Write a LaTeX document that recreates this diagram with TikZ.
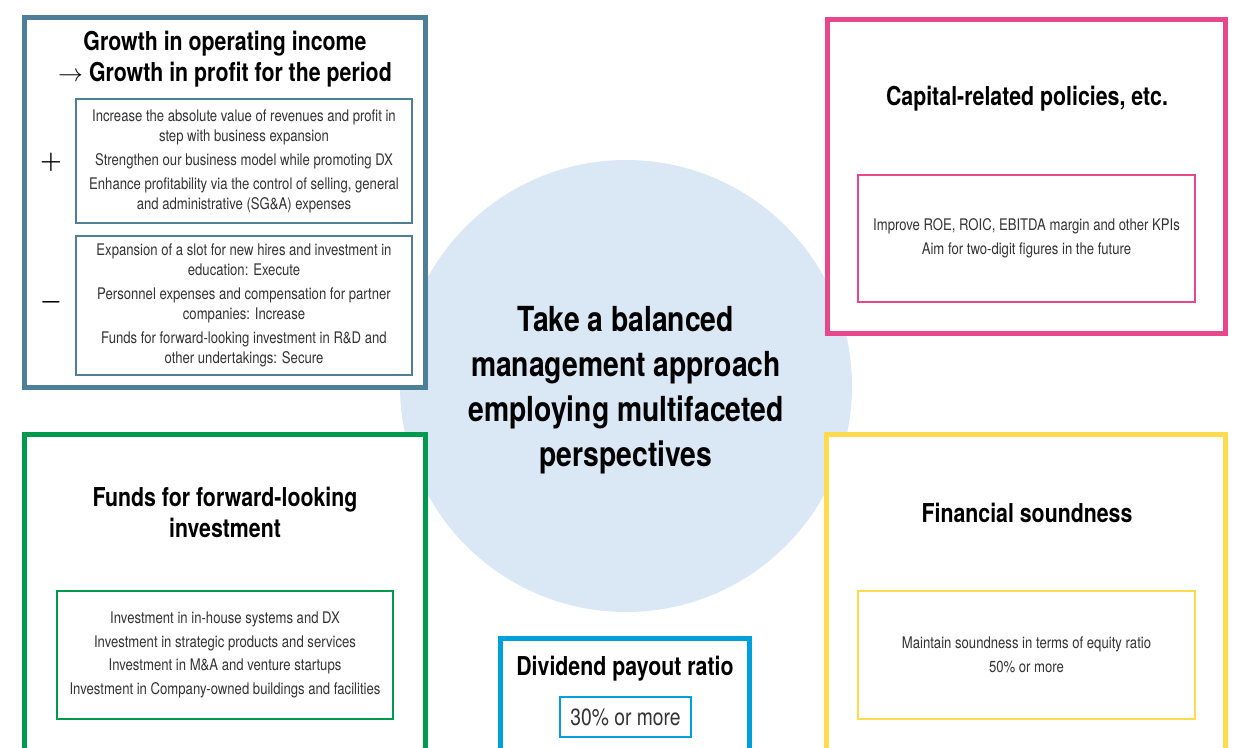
\documentclass[tikz,border=0pt]{standalone}
\usepackage{fontspec}
\setmainfont{TeX Gyre Heros}[FakeStretch=0.82]
\usepackage{tikz}
\usetikzlibrary{positioning}

\definecolor{slateline}{RGB}{77,127,153}
\definecolor{pinkline}{RGB}{232,71,139}
\definecolor{greenline}{RGB}{0,154,78}
\definecolor{yellowline}{RGB}{255,219,77}
\definecolor{blueline}{RGB}{0,160,221}
\definecolor{hubfill}{RGB}{218,232,246}
\definecolor{bodygrey}{RGB}{51,51,51}

\tikzset{
  outerbox/.style={draw=#1, line width=5pt, fill=white, inner sep=0pt},
  innerbox/.style={draw=#1, line width=2pt, fill=white, inner sep=0pt,
    align=center, text=bodygrey, font=\fontsize{16}{20}\selectfont},
  headtext/.style={align=center, font=\bfseries\fontsize{26}{31}\selectfont},
  signtext/.style={font=\boldmath\fontsize{38}{38}\selectfont}
}

\begin{document}
\begin{tikzpicture}[x=1pt, y=-1pt]
    \useasboundingbox (0,0) rectangle (1239,747);
    \clip (0,0) rectangle (1239,747);

    % Central circle
    \node[circle, fill=hubfill, minimum size=452pt, inner sep=0pt] (hub) at (626,386) {};
    \node[align=center, font=\bfseries\fontsize{34.5}{45}\selectfont] (hubtext) at (626,390)
        {Take a balanced\\management approach\\employing multifaceted\\perspectives};

    % Growth in operating income
    \node[outerbox=slateline, minimum width=401pt, minimum height=370pt] (growth) at (225,202.5) {};
    \node[headtext] (growthhead) at (225,59)
        {Growth in operating income\\$\rightarrow$ Growth in profit for the period};
    \node[innerbox=slateline, minimum width=336pt, minimum height=124pt] (plusbox) at (244,161)
        {Increase the absolute value of revenues and profit in\\step with business expansion\\[4pt]
         Strengthen our business model while promoting DX\\[4pt]
         Enhance profitability via the control of selling, general\\and administrative (SG\&A) expenses};
    \node[innerbox=slateline, minimum width=336pt, minimum height=139pt] (minusbox) at (244,305.5)
        {Expansion of a slot for new hires and investment in\\education: Execute\\[4pt]
         Personnel expenses and compensation for partner\\companies: Increase\\[4pt]
         Funds for forward-looking investment in R\&D and\\other undertakings: Secure};
    \node[signtext] (plussign) at (51,162) {$+$};
    \node[signtext] (minussign) at (51,302) {$-$};

    % Capital-related policies
    \node[outerbox=pinkline, minimum width=398pt, minimum height=314pt] (capital) at (1026.5,176.5) {};
    \node[headtext] (capitalhead) at (1027,99) {Capital-related policies, etc.};
    \node[innerbox=pinkline, minimum width=337pt, minimum height=127pt] (capitalbox) at (1026.5,238.5)
        {Improve ROE, ROIC, EBITDA margin and other KPIs\\[4pt]
         Aim for two-digit figures in the future};

    % Funds for forward-looking investment
    \node[outerbox=greenline, minimum width=401pt, minimum height=365pt] (funds) at (225,617) {};
    \node[headtext] (fundshead) at (225,512.5) {Funds for forward-looking\\investment};
    \node[innerbox=greenline, minimum width=336pt, minimum height=128pt] (fundsbox) at (225,655)
        {Investment in in-house systems and DX\\[3.7pt]
         Investment in strategic products and services\\[3.7pt]
         Investment in M\&A and venture startups\\[3.7pt]
         Investment in Company-owned buildings and facilities};

    % Financial soundness
    \node[outerbox=yellowline, minimum width=399pt, minimum height=365pt] (sound) at (1026,617) {};
    \node[headtext] (soundhead) at (1027,513) {Financial soundness};
    \node[innerbox=yellowline, minimum width=337pt, minimum height=128pt] (soundbox) at (1026.5,655)
        {Maintain soundness in terms of equity ratio\\[4pt]
         50\% or more};

    % Dividend payout ratio
    \node[outerbox=blueline, minimum width=249pt, minimum height=161pt] (dividend) at (625,719) {};
    \node[headtext] (dividendhead) at (625,669) {Dividend payout ratio};
    \node[innerbox=blueline, minimum width=131pt, minimum height=40pt,
          font=\fontsize{23.5}{26}\selectfont] (dividendbox) at (625.5,717) {30\% or more};
\end{tikzpicture}
\end{document}
